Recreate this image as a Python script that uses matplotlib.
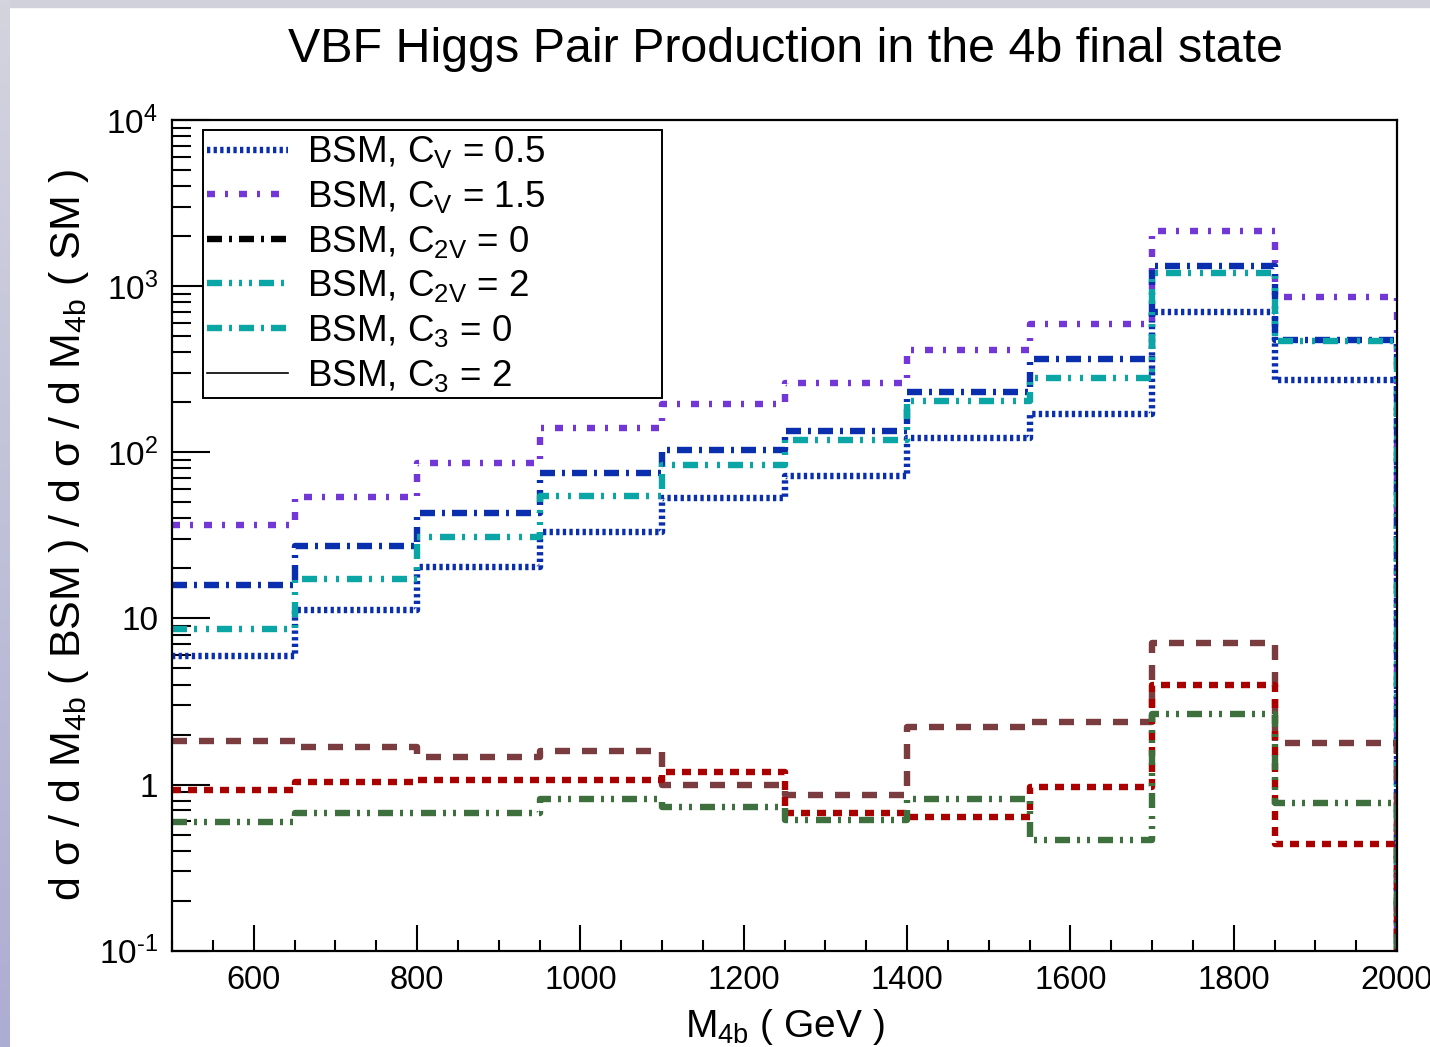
import numpy as np
import matplotlib
matplotlib.use("Agg")
import matplotlib.pyplot as plt
from matplotlib.lines import Line2D
from matplotlib.patches import Rectangle
from matplotlib.ticker import FixedLocator, MultipleLocator, LogLocator, NullFormatter

FONT = "Liberation Sans"
plt.rcParams.update({
    "font.family": [FONT, "DejaVu Sans"],
    "mathtext.fontset": "custom",
    "mathtext.rm": FONT,
    "mathtext.it": FONT + ":italic",
    "mathtext.bf": FONT + ":bold",
    "mathtext.sf": FONT,
    "lines.scale_dashes": False,
})

PX = 0.72  # points per pixel at 100 dpi

# ---- data: ratio of BSM to SM differential cross sections per M_4b bin ----
bin_edges = [500, 650, 800, 950, 1100, 1250, 1400, 1550, 1700, 1850, 2000]

bsm_cv_05 = [5.96, 11.2, 20.4, 33.2, 53.2, 72.1, 122, 171, 699, 271]
bsm_cv_15 = [36.4, 53.9, 85.7, 140, 194, 263, 411, 590, 2140, 859]
bsm_c2v_0 = [15.9, 27.3, 43.2, 75.0, 103, 134, 231, 362, 1322, 472]
bsm_c2v_2 = [8.63, 17.2, 30.7, 54.7, 83.6, 118, 204, 280, 1208, 465]

low_dashed = [1.835, 1.674, 1.458, 1.59, 1.00, 0.865, 2.23, 2.37, 7.07, 1.785]
low_dotted = [0.927, 1.04, 1.064, 1.064, 1.194, 0.676, 0.635, 0.97, 3.97, 0.436]
low_dashdot = [0.597, 0.671, 0.671, 0.818, 0.734, 0.616, 0.818, 0.463, 2.66, 0.777]

legend_labels = [
    r"BSM, C$_{\mathrm{V}}$ = 0.5",
    r"BSM, C$_{\mathrm{V}}$ = 1.5",
    r"BSM, C$_{\mathrm{2V}}$ = 0",
    r"BSM, C$_{\mathrm{2V}}$ = 2",
    r"BSM, C$_{\mathrm{3}}$ = 0",
    r"BSM, C$_{\mathrm{3}}$ = 2",
]

y_ticks = [0.1, 1, 10, 100, 1000, 10000]
y_ticklabels = [r"10$^{\text{-1}}$", "1", "10", r"10$^{\mathrm{2}}$",
                r"10$^{\mathrm{3}}$", r"10$^{\mathrm{4}}$"]
x_ticks = [600, 800, 1000, 1200, 1400, 1600, 1800, 2000]

# ---- styles ----
def dash(*px):
    return [p * PX for p in px]

BLUE = "#0a2fae"
PURPLE = "#7437d7"
TEAL = "#0aa5a5"
BROWN = "#7a3c3f"
RED = "#ab0000"
GREEN = "#3e703e"
LW = 4.6

series = [
    (bsm_cv_05, BLUE, dash(3.3, 3.3)),
    (bsm_cv_15, PURPLE, dash(8, 10, 3, 11)),
    (bsm_c2v_0, BLUE, dash(15, 7, 3, 7)),
    (bsm_c2v_2, TEAL, dash(15, 7, 3, 9, 3, 8)),
    (low_dashed, BROWN, dash(15, 12)),
    (low_dotted, RED, dash(9, 7)),
    (low_dashdot, GREEN, dash(15, 7, 3, 7, 3, 8)),
]

fig = plt.figure(figsize=(14.3, 10.47), dpi=100)
fig.patch.set_facecolor("white")

# slide frame around the canvas
frame_ax = fig.add_axes([0, 0, 10 / 1430, 1])
grad = np.linspace(0, 1, 256).reshape(-1, 1)
frame_ax.imshow(grad, aspect="auto", origin="upper",
                cmap=matplotlib.colors.LinearSegmentedColormap.from_list(
                    "frame", ["#d4d4df", "#acadd2"]))
frame_ax.set_axis_off()
fig.add_artist(Rectangle((0, 1 - 7 / 1047), 1, 7 / 1047,
                         transform=fig.transFigure, color="#d1d1dc", zorder=0))

ax = fig.add_axes([172 / 1430, 1 - 950.7 / 1047, 1225 / 1430, 830.7 / 1047])
ax.set_yscale("log")

y_floor = 0.01
x_steps = bin_edges + [bin_edges[-1]]
for vals, color, dashes in series:
    y_steps = list(vals) + [vals[-1], y_floor]
    ax.plot(x_steps, y_steps, drawstyle="steps-post", color=color, lw=LW,
            dashes=dashes, solid_capstyle="butt", dash_capstyle="butt")

ax.set_xlim(500, 2000)
ax.set_ylim(0.1, 1e4)

ax.set_yticks(y_ticks, labels=y_ticklabels)
ax.yaxis.set_minor_locator(LogLocator(base=10, subs=np.arange(2, 10)))
ax.yaxis.set_minor_formatter(NullFormatter())
ax.xaxis.set_major_locator(FixedLocator(x_ticks))
ax.xaxis.set_minor_locator(MultipleLocator(50))

ax.tick_params(axis="y", which="major", direction="in", length=38 * PX,
               width=1.5, labelsize=24, pad=10, right=False)
ax.tick_params(axis="y", which="minor", direction="in", length=19 * PX,
               width=1.5, right=False)
ax.tick_params(axis="x", which="major", direction="in", length=26 * PX,
               width=1.5, labelsize=23.5, pad=10, top=False)
ax.tick_params(axis="x", which="minor", direction="in", length=11 * PX,
               width=1.5, top=False)
for s in ax.spines.values():
    s.set_linewidth(1.6)

fig.text(785 / 1430, 1 - 49 / 1047, "VBF Higgs Pair Production in the 4b final state",
         ha="center", va="center", fontsize=34.8)
ax.set_xlabel(r"M$_{\mathrm{4b}}$ ( GeV )", fontsize=28, labelpad=8)
ax.set_ylabel(r"d σ / d M$_{\mathrm{4b}}$ ( BSM ) / d σ / d M$_{\mathrm{4b}}$ ( SM )",
              fontsize=31, labelpad=6)

handles = [
    Line2D([], [], color=BLUE, lw=LW, dashes=dash(3.3, 3.3)),
    Line2D([], [], color=PURPLE, lw=LW, dashes=dash(8, 10, 3, 11)),
    Line2D([], [], color="black", lw=LW, dashes=dash(15, 7, 3, 7)),
    Line2D([], [], color=TEAL, lw=LW, dashes=dash(15, 7, 3, 7, 3, 7, 3, 7)),
    Line2D([], [], color=TEAL, lw=LW, dashes=dash(15, 7, 3, 7)),
    Line2D([], [], color="black", lw=1.2),
]
leg = ax.legend(handles, legend_labels, loc="upper left",
                bbox_to_anchor=(0.0253, 0.988, 0.3747, 0.0), mode="expand",
                fontsize=26.5, handlelength=2.2, handletextpad=0.5,
                labelspacing=0.235, borderpad=0.12, borderaxespad=0.0,
                fancybox=False, framealpha=1, edgecolor="black")
leg.get_frame().set_linewidth(1.4)

fig.savefig("out.png", dpi=100)
